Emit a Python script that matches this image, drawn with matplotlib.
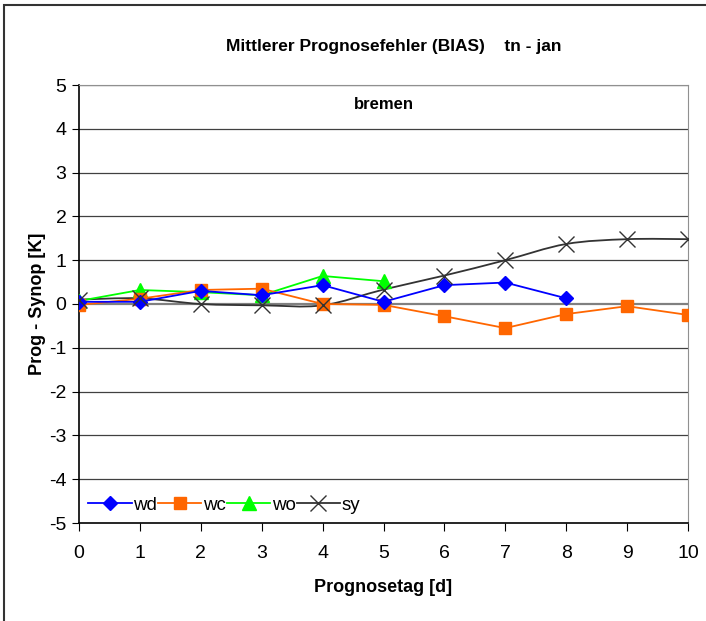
import numpy as np
import matplotlib
matplotlib.use('Agg')
import matplotlib.pyplot as plt
from matplotlib.path import Path
from matplotlib.patches import PathPatch, Rectangle
from matplotlib.lines import Line2D

plt.rcParams['font.family'] = ['Liberation Sans Narrow', 'Liberation Sans', 'DejaVu Sans']
plt.rcParams['axes.unicode_minus'] = False

days = [0, 1, 2, 3, 4, 5, 6, 7, 8, 9, 10]
wd = [0.05, 0.05, 0.30, 0.20, 0.43, 0.05, 0.43, 0.49, 0.13]
wc = [-0.02, 0.12, 0.32, 0.35, 0.0, -0.02, -0.28, -0.55, -0.23, -0.05, -0.25]
wo = [0.07, 0.32, 0.27, 0.20, 0.64, 0.52]
sy = [0.10, 0.13, 0.0, -0.03, -0.03, 0.33, 0.65, 1.0, 1.37, 1.48, 1.48]

title = 'Mittlerer Prognosefehler (BIAS)    tn - jan'
station = 'bremen'


def smooth_path(x, y, t=1/6.):
    # catmull-rom style bezier, like the excel "smoothed line"
    x = np.asarray(x, float); y = np.asarray(y, float)
    verts = [(x[0], y[0])]
    codes = [Path.MOVETO]
    n = len(x)
    for i in range(n - 1):
        p0 = (x[max(i - 1, 0)], y[max(i - 1, 0)])
        p1 = (x[i], y[i])
        p2 = (x[i + 1], y[i + 1])
        p3 = (x[min(i + 2, n - 1)], y[min(i + 2, n - 1)])
        c1 = (p1[0] + (p2[0] - p0[0]) * t, p1[1] + (p2[1] - p0[1]) * t)
        c2 = (p2[0] - (p3[0] - p1[0]) * t, p2[1] - (p3[1] - p1[1]) * t)
        verts += [c1, c2, p2]
        codes += [Path.CURVE4] * 3
    return Path(verts, codes)


fig = plt.figure(figsize=(7.06, 6.21), dpi=100)
fig.patches.append(Rectangle((4 / 706, -0.05), 1.1, 1.05 - 5 / 621, transform=fig.transFigure,
                             fill=False, edgecolor='#333333', linewidth=1.5))

ax = fig.add_axes([79 / 706, 98 / 621, 609 / 706, 438 / 621])
ax.set_xlim(0, 10)
ax.set_ylim(-5, 5)

for v in range(-4, 6):
    if v == 0:
        continue
    ax.axhline(v, color='#404040', linewidth=0.9, zorder=1)
ax.axhline(0, color='#808080', linewidth=1.6, zorder=1)

c_wd, c_wc, c_wo, c_sy = '#0000FF', '#FF6600', '#00FF00', '#333333'

ax.plot(days[:len(wd)], wd, color=c_wd, marker='D', markersize=7.5, linewidth=1.3, zorder=5)
ax.plot(days[:len(wc)], wc, color=c_wc, marker='s', markersize=9, linewidth=1.3, zorder=4)
ax.plot(days[:len(wo)], wo, color=c_wo, marker='^', markersize=9.5, linewidth=1.3, zorder=3)
ax.add_patch(PathPatch(smooth_path(days, sy), fill=False, edgecolor=c_sy, linewidth=1.3, zorder=2))
ax.plot(days, sy, linestyle='none', color=c_sy, marker='x', markersize=11,
        markeredgewidth=1.0, zorder=6)

for s in ['top', 'right']:
    ax.spines[s].set_color('#909090')
for s in ['left', 'bottom']:
    ax.spines[s].set_color('black')
ax.spines['bottom'].set_linewidth(1.2)
ax.spines['left'].set_linewidth(1.2)

ax.set_xticks(days)
ax.set_yticks(range(-5, 6))
ax.tick_params(axis='x', direction='out', length=6, pad=10, labelsize=14)
ax.tick_params(axis='y', direction='out', length=5, pad=4, labelsize=14)

ax.set_xlabel('Prognosetag [d]', fontsize=13, fontweight='bold', labelpad=12)
ax.set_ylabel('Prog - Synop [K]', fontsize=13, fontweight='bold', labelpad=2)

fig.text(394 / 706, 1 - 47 / 621, title, ha='center', va='center', fontsize=12.5, fontweight='bold')
ax.text(5, 4.55, station, ha='center', va='center', fontsize=12, fontweight='bold')

handles = [
    Line2D([], [], color=c_wd, marker='D', markersize=7.5, linewidth=1.3),
    Line2D([], [], color=c_wc, marker='s', markersize=9, linewidth=1.3),
    Line2D([], [], color=c_wo, marker='^', markersize=9.5, linewidth=1.3),
    Line2D([], [], color=c_sy, marker='x', markersize=11, markeredgewidth=1.0, linewidth=1.3),
]
ax.legend(handles, ['wd', 'wc', 'wo', 'sy'], loc='lower left', bbox_to_anchor=(0.0, 0.0),
          ncol=4, frameon=False, fontsize=13.5, handlelength=2.3, handletextpad=0.1,
          columnspacing=0.05, borderaxespad=0.3, borderpad=0.2)

fig.savefig('out.png', dpi=100)
